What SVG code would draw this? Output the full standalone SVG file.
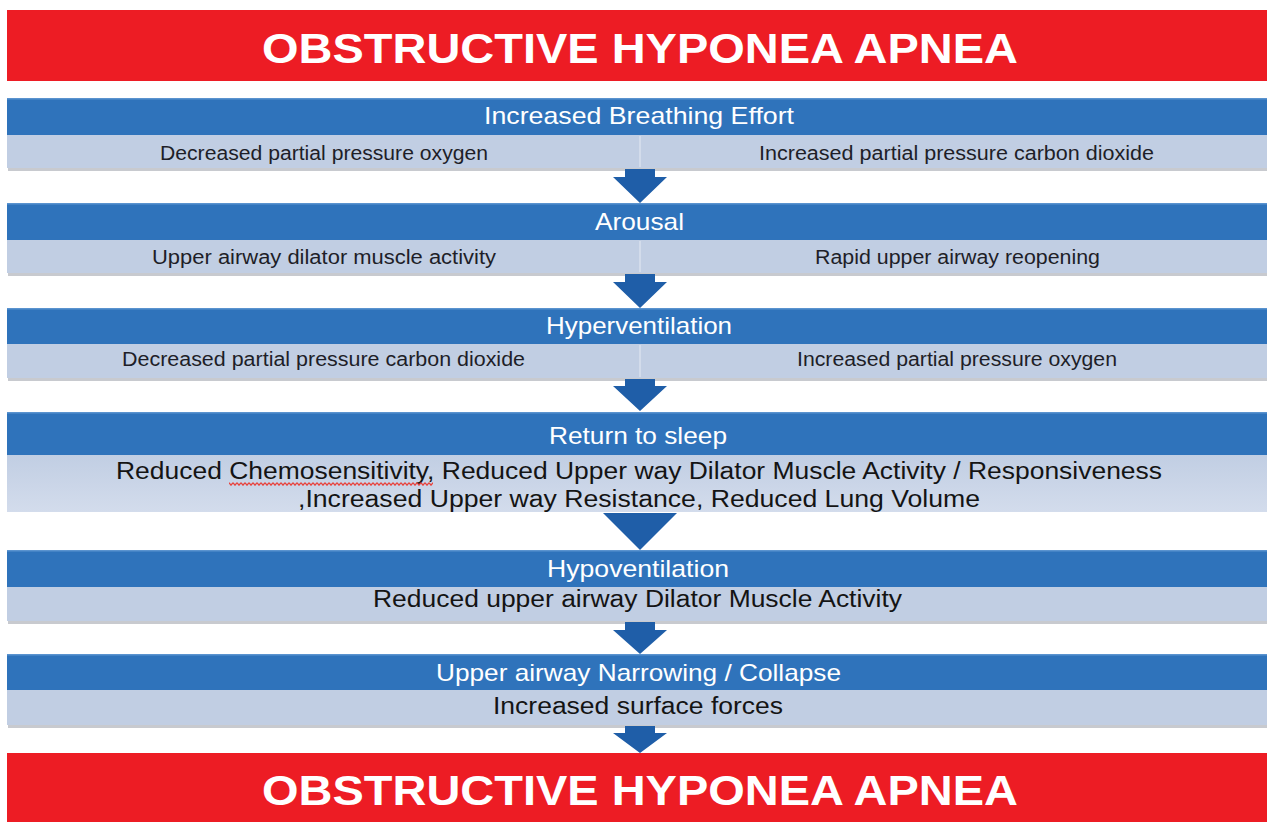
<svg xmlns="http://www.w3.org/2000/svg" width="1267" height="822" viewBox="0 0 1267 822">
<style>
.red{fill:#ED1C24}
.hdr{fill:#2F73BB}
.hdrEdge{fill:#5A93CF}
.sub{fill:#C1CEE3}
.shadow{fill:#9A9FA8;opacity:0.55}
.div{stroke:#D8E0EE;stroke-width:1.5}
.title{font-family:"Liberation Sans",Arial,sans-serif;font-weight:bold;font-size:42px;fill:#FFFFFF}
.ht{font-family:"Liberation Sans",Arial,sans-serif;font-size:24px;fill:#FFFFFF}
.st{font-family:"Liberation Sans",Arial,sans-serif;font-size:20px;fill:#1E1E28}
.st2{font-family:"Liberation Sans",Arial,sans-serif;font-size:23px;fill:#141414}
.arrow{fill:#1F5EA8}
</style>
<defs>
<linearGradient id="fade" x1="0" y1="0" x2="0" y2="1">
<stop offset="0" stop-color="#C1CEE3"/>
<stop offset="1" stop-color="#D3DCEC"/>
</linearGradient>
<pattern id="squig" x="229" y="482" width="4" height="4" patternUnits="userSpaceOnUse">
<path d="M0 0.7 L2 3.2 L4 0.7" fill="none" stroke="#E8403A" stroke-width="1.2"/>
</pattern>
</defs>
<rect width="1267" height="822" fill="#FFFFFF"/>

<g id="title-top">
<rect class="red" x="7" y="10" width="1260" height="71"/>
<text class="title" x="262" y="63" textLength="756" lengthAdjust="spacingAndGlyphs">OBSTRUCTIVE HYPONEA APNEA</text>
</g>

<g id="node-breathing-effort">
<rect class="shadow" x="8" y="168" width="1259" height="3"/>
<rect class="hdr" x="7" y="98" width="1260" height="37"/>
<rect class="hdrEdge" x="7" y="98" width="1260" height="1.5"/>
<rect class="sub" x="7" y="135" width="1260" height="33"/>
<line class="div" x1="640" y1="136" x2="640" y2="167"/>
<text class="ht" x="484" y="124" textLength="310" lengthAdjust="spacingAndGlyphs">Increased Breathing Effort</text>
<text class="st" x="160" y="160" textLength="328" lengthAdjust="spacingAndGlyphs">Decreased partial pressure oxygen</text>
<text class="st" x="759" y="160" textLength="395" lengthAdjust="spacingAndGlyphs">Increased partial pressure carbon dioxide</text>
</g>

<g id="node-arousal">
<rect class="shadow" x="8" y="273" width="1259" height="3"/>
<rect class="hdr" x="7" y="203" width="1260" height="37"/>
<rect class="hdrEdge" x="7" y="203" width="1260" height="1.5"/>
<rect class="sub" x="7" y="240" width="1260" height="33"/>
<line class="div" x1="640" y1="241" x2="640" y2="272"/>
<text class="ht" x="595" y="230" textLength="89" lengthAdjust="spacingAndGlyphs">Arousal</text>
<text class="st" x="152" y="264" textLength="344" lengthAdjust="spacingAndGlyphs">Upper airway dilator muscle activity</text>
<text class="st" x="815" y="264" textLength="285" lengthAdjust="spacingAndGlyphs">Rapid upper airway reopening</text>
</g>

<g id="node-hyperventilation">
<rect class="shadow" x="8" y="378" width="1259" height="3"/>
<rect class="hdr" x="7" y="308" width="1260" height="36"/>
<rect class="hdrEdge" x="7" y="308" width="1260" height="1.5"/>
<rect class="sub" x="7" y="344" width="1260" height="34"/>
<line class="div" x1="640" y1="345" x2="640" y2="377"/>
<text class="ht" x="546" y="334" textLength="186" lengthAdjust="spacingAndGlyphs">Hyperventilation</text>
<text class="st" x="122" y="366" textLength="403" lengthAdjust="spacingAndGlyphs">Decreased partial pressure carbon dioxide</text>
<text class="st" x="797" y="366" textLength="320" lengthAdjust="spacingAndGlyphs">Increased partial pressure oxygen</text>
</g>

<g id="node-return-to-sleep">
<rect class="hdr" x="7" y="412" width="1260" height="43"/>
<rect class="hdrEdge" x="7" y="412" width="1260" height="1.5"/>
<rect x="7" y="455" width="1260" height="57" fill="url(#fade)"/>
<text class="ht" x="549" y="444" textLength="178" lengthAdjust="spacingAndGlyphs">Return to sleep</text>
<text class="st2" x="116" y="479" textLength="1046" lengthAdjust="spacingAndGlyphs">Reduced Chemosensitivity, Reduced Upper way  Dilator Muscle Activity / Responsiveness</text>
<text class="st2" x="298" y="507" textLength="682" lengthAdjust="spacingAndGlyphs">,Increased Upper way  Resistance, Reduced Lung Volume</text>
<rect x="229" y="482" width="204" height="4" fill="url(#squig)"/>
</g>

<g id="node-hypoventilation">
<rect class="shadow" x="8" y="621" width="1259" height="3"/>
<rect class="hdr" x="7" y="550" width="1260" height="37"/>
<rect class="hdrEdge" x="7" y="550" width="1260" height="1.5"/>
<rect class="sub" x="7" y="587" width="1260" height="34"/>
<text class="ht" x="547" y="577" textLength="182" lengthAdjust="spacingAndGlyphs">Hypoventilation</text>
<text class="st2" x="373" y="607" textLength="529" lengthAdjust="spacingAndGlyphs">Reduced upper airway  Dilator Muscle Activity</text>
</g>

<g id="node-narrowing">
<rect class="shadow" x="8" y="725" width="1259" height="3"/>
<rect class="hdr" x="7" y="654" width="1260" height="36"/>
<rect class="hdrEdge" x="7" y="654" width="1260" height="1.5"/>
<rect class="sub" x="7" y="690" width="1260" height="35"/>
<text class="ht" x="436" y="681" textLength="405" lengthAdjust="spacingAndGlyphs">Upper airway  Narrowing  / Collapse</text>
<text class="st2" x="493" y="714" textLength="290" lengthAdjust="spacingAndGlyphs">Increased surface forces</text>
</g>

<g id="title-bottom">
<rect class="red" x="7" y="753" width="1260" height="69"/>
<text class="title" x="262" y="805" textLength="756" lengthAdjust="spacingAndGlyphs">OBSTRUCTIVE HYPONEA APNEA</text>
</g>

<g id="connectors">
<polygon class="arrow" points="625,169 655,169 655,177 667,177 640,203 613,177 625,177"/>
<polygon class="arrow" points="625,274 655,274 655,282 667,282 640,308 613,282 625,282"/>
<polygon class="arrow" points="625,379 655,379 655,386 667,386 640,411 613,386 625,386"/>
<polygon class="arrow" points="603,513 677,513 640,550"/>
<polygon class="arrow" points="625,622 655,622 655,630 667,630 640,654 613,630 625,630"/>
<polygon class="arrow" points="625,726 655,726 655,733 667,733 640,753 613,733 625,733"/>
</g>
</svg>
